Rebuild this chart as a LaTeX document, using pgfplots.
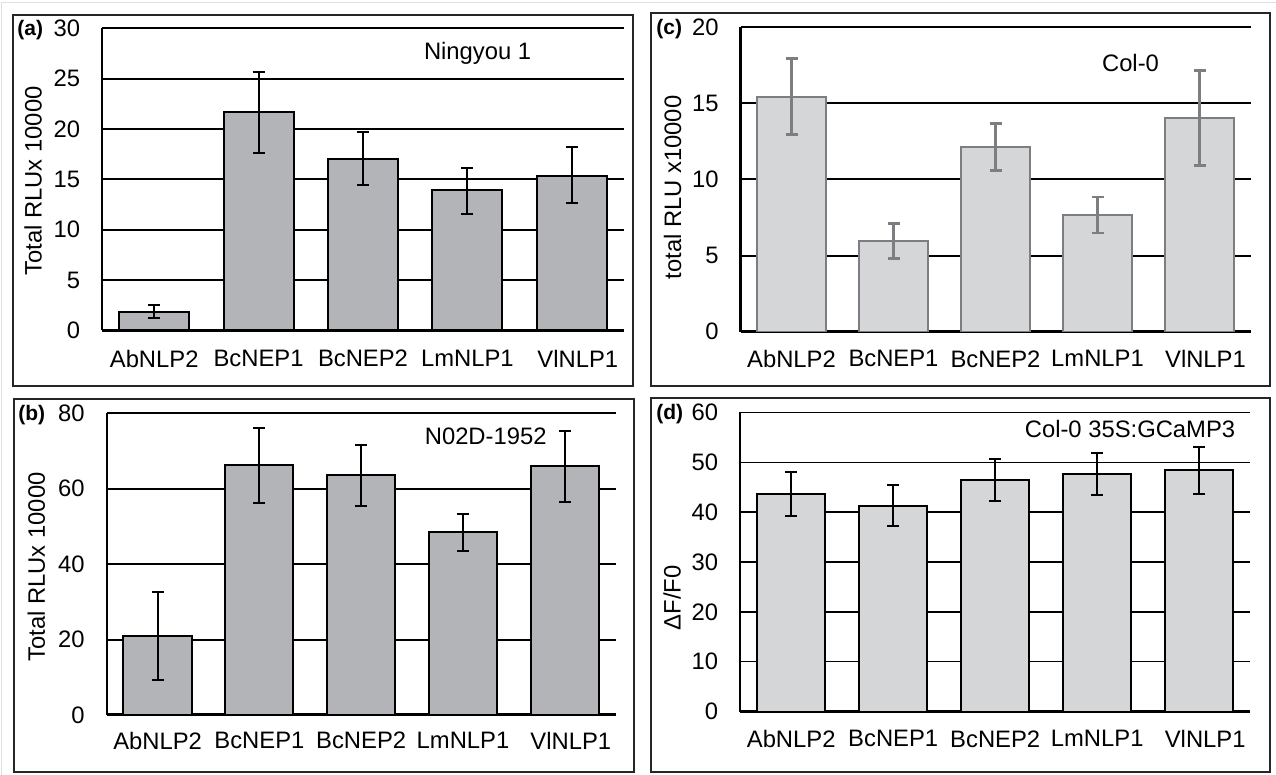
\documentclass[border=0pt]{standalone}
\usepackage{fontspec}
\setmainfont{Liberation Sans}
\usepackage{pgfplots}
\pgfplotsset{compat=1.18}
\definecolor{barA}{HTML}{B3B4B7}
\definecolor{barC}{HTML}{D5D6D8}
\definecolor{edgeC}{HTML}{7D7E81}
\definecolor{boxC}{HTML}{262626}
\newcommand\tf{\fontsize{11.9}{14}\selectfont}
\pgfplotsset{
 panel/.style={
  scale only axis, anchor=south west,
  xmin=-0.5, xmax=4.5, ymin=0,
  axis x line*=bottom, axis y line*=left,
  x axis line style={line width=1.5pt, -, black},
  y axis line style={line width=1.2pt, -, black},
  xtick={0,...,4}, xticklabels={AbNLP2,BcNEP1,BcNEP2,LmNLP1,\hspace{6pt}VlNLP1},
  major tick length=0pt,
  ymajorgrids, grid style={black, line width=1pt},
  tick label style={font=\tf},
  /pgf/number format/assume math mode=true,
  yticklabel style={anchor=east, inner sep=0pt, xshift=-10.8pt},
  xticklabel style={anchor=north, inner sep=0pt},
 },
 bars/.style={ybar, bar width=0.67, line width=1pt,
  error bars/y dir=both, error bars/y explicit,
  error bars/error bar style={line width=1pt, #1},
  error bars/error mark options={rotate=90, mark size=3pt, line width=1pt, #1}},
}
\begin{document}
\begin{tikzpicture}
\useasboundingbox (0,0) rectangle (638pt,387.5pt);
\draw[gray!25, line width=0.5pt] (0.85pt,0) -- (0.85pt,386.15pt) -- (638pt,386.15pt);
% boxes
\draw[boxC, line width=1pt] (6.35pt,194.6pt) rectangle (316.35pt,380.15pt);
\draw[boxC, line width=1pt] (325.5pt,194.3pt) rectangle (635pt,380.85pt);
\draw[boxC, line width=1pt] (7.15pt,1.65pt) rectangle (317pt,188pt);
\draw[boxC, line width=1pt] (325.7pt,1.65pt) rectangle (635pt,188.3pt);

% (a)
\begin{axis}[panel, at={(51pt,222.35pt)}, width=261pt, height=151pt,
  ymax=30, ytick={0,5,...,30}, xticklabel style={yshift=-9.8pt}]
\addplot[bars=black, fill=barA, draw=black]
 coordinates {(0,1.82) += (0,0.67) -= (0,0.56)
              (1,21.64) += (0,4.06) -= (0,4.04)
              (2,17.04) += (0,2.62) -= (0,2.62)
              (3,13.89) += (0,2.28) -= (0,2.29)
              (4,15.31) += (0,2.85) -= (0,2.71)};
\end{axis}

% (c)
\begin{axis}[panel, at={(370.25pt,221.65pt)}, width=255pt, height=152.2pt,
  ymax=20, ytick={0,5,...,20}, xticklabel style={yshift=-9.2pt}]
\addplot[bars={edgeC, line width=1.3pt}, fill=barC, draw=edgeC]
 coordinates {(0,15.44) += (0,2.50) -= (0,2.47)
              (1,5.98) += (0,1.14) -= (0,1.16)
              (2,12.14) += (0,1.53) -= (0,1.56)
              (3,7.65) += (0,1.20) -= (0,1.17)
              (4,14.02) += (0,3.13) -= (0,3.11)};
\end{axis}

% (b)
\begin{axis}[panel, at={(53.35pt,30pt)}, width=254.5pt, height=150.85pt,
  ymax=80, ytick={0,20,...,80}, xticklabel style={yshift=-8.3pt}]
\addplot[bars=black, fill=barA, draw=black]
 coordinates {(0,20.95) += (0,11.65) -= (0,11.58)
              (1,66.2) += (0,9.9) -= (0,9.9)
              (2,63.7) += (0,8.0) -= (0,8.2)
              (3,48.5) += (0,4.9) -= (0,4.9)
              (4,65.95) += (0,9.25) -= (0,9.55)};
\end{axis}

% (d)
\begin{axis}[panel, at={(370.1pt,31.65pt)}, width=255pt, height=149.7pt,
  ymax=60, ytick={0,10,...,60}, grid style={black, line width=0.65pt},
  xticklabel style={yshift=-9.2pt}]
\addplot[bars=black, fill=barC, draw=black]
 coordinates {(0,43.7) += (0,4.3) -= (0,4.4)
              (1,41.3) += (0,4.1) -= (0,4.1)
              (2,46.5) += (0,4.2) -= (0,4.2)
              (3,47.7) += (0,4.1) -= (0,4.2)
              (4,48.4) += (0,4.6) -= (0,4.7)};
\end{axis}

% texts
\node[anchor=base west, inner sep=0pt, font=\fontsize{10.5}{12}\selectfont\bfseries] at (8.5pt,369.5pt) {(a)};
\node[anchor=base west, inner sep=0pt, font=\fontsize{10.5}{12}\selectfont\bfseries] at (328pt,370pt) {(c)};
\node[anchor=base west, inner sep=0pt, font=\fontsize{10.5}{12}\selectfont\bfseries] at (9pt,177.1pt) {(b)};
\node[anchor=base west, inner sep=0pt, font=\fontsize{10.5}{12}\selectfont\bfseries] at (328pt,177.6pt) {(d)};
\node[anchor=base, inner sep=0pt, font=\tf] at (238.8pt,357.5pt) {Ningyou 1};
\node[anchor=base, inner sep=0pt, font=\tf] at (565.25pt,351.65pt) {Col-0};
\node[anchor=base, inner sep=0pt, font=\tf] at (242.85pt,165pt) {N02D-1952};
\node[anchor=base, inner sep=0pt, font=\tf] at (565pt,168.5pt) {Col-0 35S:GCaMP3};
\node[anchor=base, inner sep=0pt, rotate=90, font=\tf] at (20.85pt,297pt) {Total RLUx 10000};
\node[anchor=base, inner sep=0pt, rotate=90, font=\tf] at (340.5pt,293.75pt) {total RLU x10000};
\node[anchor=base, inner sep=0pt, rotate=90, font=\tf] at (22.5pt,104pt) {Total RLUx 10000};
\node[anchor=base, inner sep=0pt, rotate=90, font=\tf] at (340.3pt,88.5pt) {ΔF/F0};
\end{tikzpicture}
\end{document}
